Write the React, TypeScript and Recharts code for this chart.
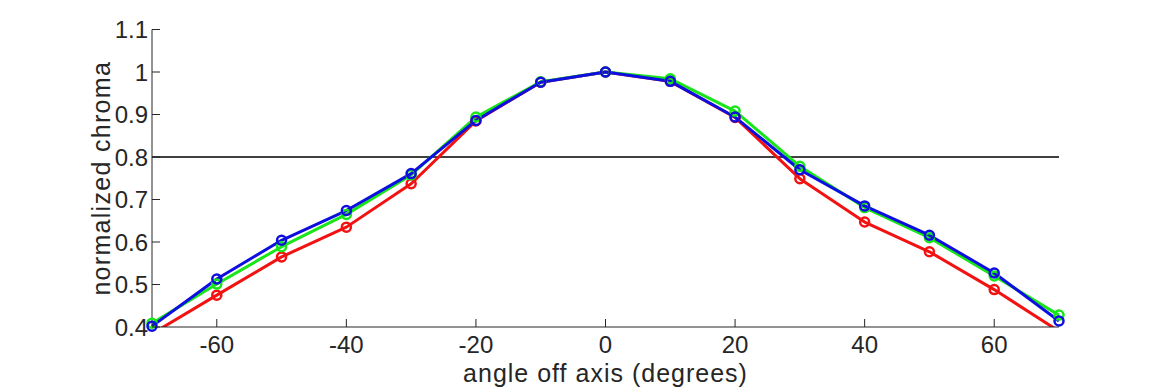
import React from "react";
import {
  LineChart,
  Line,
  XAxis,
  YAxis,
  ReferenceLine,
} from "recharts";

// viewing angle data
const angles = [-70, -60, -50, -40, -30, -20, -10, 0, 10, 20, 30, 40, 50, 60, 70];
const red = [0.384, 0.475, 0.565, 0.635, 0.737, 0.885, 0.976, 1.0, 0.978, 0.893, 0.749, 0.647, 0.577, 0.488, 0.39];
const green = [0.409, 0.501, 0.589, 0.665, 0.758, 0.894, 0.977, 1.0, 0.984, 0.908, 0.778, 0.681, 0.61, 0.52, 0.428];
const blue = [0.402, 0.513, 0.604, 0.674, 0.761, 0.886, 0.976, 1.0, 0.978, 0.894, 0.77, 0.685, 0.616, 0.527, 0.414];

const xTicks = [-60, -40, -20, 0, 20, 40, 60];
const yTicks = [0.4, 0.5, 0.6, 0.7, 0.8, 0.9, 1, 1.1];
const xDomain = [-70, 70];
const yDomain = [0.4, 1.1];
const threshold = 0.8;

const FONT = '"Liberation Sans", Arial, Helvetica, sans-serif';
const INK = "#262626";
const TICK = 8;

const COLORS = { red: "#f21212", green: "#18e618", blue: "#0e0ee0" };

// markers whose centre falls outside the axes are not drawn (like matlab)
const inside = (v: number) => (v >= yDomain[0] && v <= yDomain[1] ? v : null);

const data = angles.map((angle, i) => ({
  angle,
  red: red[i],
  green: green[i],
  blue: blue[i],
  redMark: inside(red[i]),
  greenMark: inside(green[i]),
  blueMark: inside(blue[i]),
}));

const BottomTick = (props: any) => {
  const { x, y, payload } = props;
  return (
    <g>
      <line x1={x} y1={y} x2={x} y2={y - TICK} stroke={INK} />
      <text x={x} y={y + 26} textAnchor="middle" fontSize={24} fontFamily={FONT} fill={INK}>
        {payload.value}
      </text>
    </g>
  );
};

const TopTick = (props: any) => {
  const { x, y } = props;
  return <line x1={x} y1={y} x2={x} y2={y + TICK} stroke={INK} />;
};

const LeftTick = (props: any) => {
  const { x, y, payload } = props;
  return (
    <g>
      <line x1={x} y1={y} x2={x + TICK} y2={y} stroke={INK} />
      <text x={x - 4} y={y + 8.5} textAnchor="end" fontSize={24} fontFamily={FONT} fill={INK}>
        {String(payload.value)}
      </text>
    </g>
  );
};

const RightTick = (props: any) => {
  const { x, y } = props;
  return <line x1={x} y1={y} x2={x - TICK} y2={y} stroke={INK} />;
};

const XLabel = (props: any) => {
  const vb = props.viewBox;
  return (
    <text
      x={vb.x + vb.width / 2}
      y={vb.y + 55}
      textAnchor="middle"
      fontSize={25}
      letterSpacing={1}
      fontFamily={FONT}
      fill={INK}
    >
      angle off axis (degrees)
    </text>
  );
};

const YLabel = (props: any) => {
  const vb = props.viewBox;
  const x = vb.x + vb.width - 42;
  const y = vb.y + vb.height / 2;
  return (
    <text
      x={x}
      y={y}
      transform={`rotate(-90 ${x} ${y})`}
      textAnchor="middle"
      fontSize={25}
      letterSpacing={1.3}
      fontFamily={FONT}
      fill={INK}
    >
      normalized chroma
    </text>
  );
};

const marker = (color: string) => ({
  r: 4.5,
  stroke: color,
  strokeWidth: 2.5,
  fill: "none",
});

export default function App() {
  return (
    <div style={{ position: "absolute", left: 0, top: 0, background: "#fff" }}>
      <LineChart
        width={1170}
        height={390}
        data={data}
        margin={{ top: 29.5, right: 111, bottom: 0, left: 0 }}
      >
        <XAxis
          dataKey="angle"
          type="number"
          domain={xDomain}
          ticks={xTicks}
          height={63}
          tickSize={0}
          tickMargin={0}
          tickLine={false}
          tick={BottomTick}
          axisLine={{ stroke: INK }}
          label={XLabel}
        />
        <XAxis
          xAxisId="top"
          dataKey="angle"
          orientation="top"
          type="number"
          domain={xDomain}
          ticks={xTicks}
          height={0}
          tickSize={0}
          tickMargin={0}
          tickLine={false}
          tick={TopTick}
          axisLine={{ stroke: INK }}
        />
        <YAxis
          type="number"
          domain={yDomain}
          ticks={yTicks}
          allowDataOverflow
          width={152}
          tickSize={0}
          tickMargin={0}
          tickLine={false}
          tick={LeftTick}
          axisLine={{ stroke: INK }}
          label={YLabel}
        />
        <YAxis
          yAxisId="right"
          orientation="right"
          type="number"
          domain={yDomain}
          ticks={yTicks}
          width={0}
          tickSize={0}
          tickMargin={0}
          tickLine={false}
          tick={RightTick}
          axisLine={{ stroke: INK }}
        />
        <ReferenceLine y={threshold} stroke="#000" strokeWidth={1.3} />

        <Line dataKey="red" stroke={COLORS.red} strokeWidth={3} strokeLinejoin="round" dot={false} activeDot={false} isAnimationActive={false} />
        <Line dataKey="redMark" xAxisId="top" yAxisId="right" stroke="none" dot={marker(COLORS.red)} activeDot={false} isAnimationActive={false} />
        <Line dataKey="green" stroke={COLORS.green} strokeWidth={3} strokeLinejoin="round" dot={false} activeDot={false} isAnimationActive={false} />
        <Line dataKey="greenMark" xAxisId="top" yAxisId="right" stroke="none" dot={marker(COLORS.green)} activeDot={false} isAnimationActive={false} />
        <Line dataKey="blue" stroke={COLORS.blue} strokeWidth={3} strokeLinejoin="round" dot={false} activeDot={false} isAnimationActive={false} />
        <Line dataKey="blueMark" xAxisId="top" yAxisId="right" stroke="none" dot={marker(COLORS.blue)} activeDot={false} isAnimationActive={false} />
      </LineChart>
    </div>
  );
}
